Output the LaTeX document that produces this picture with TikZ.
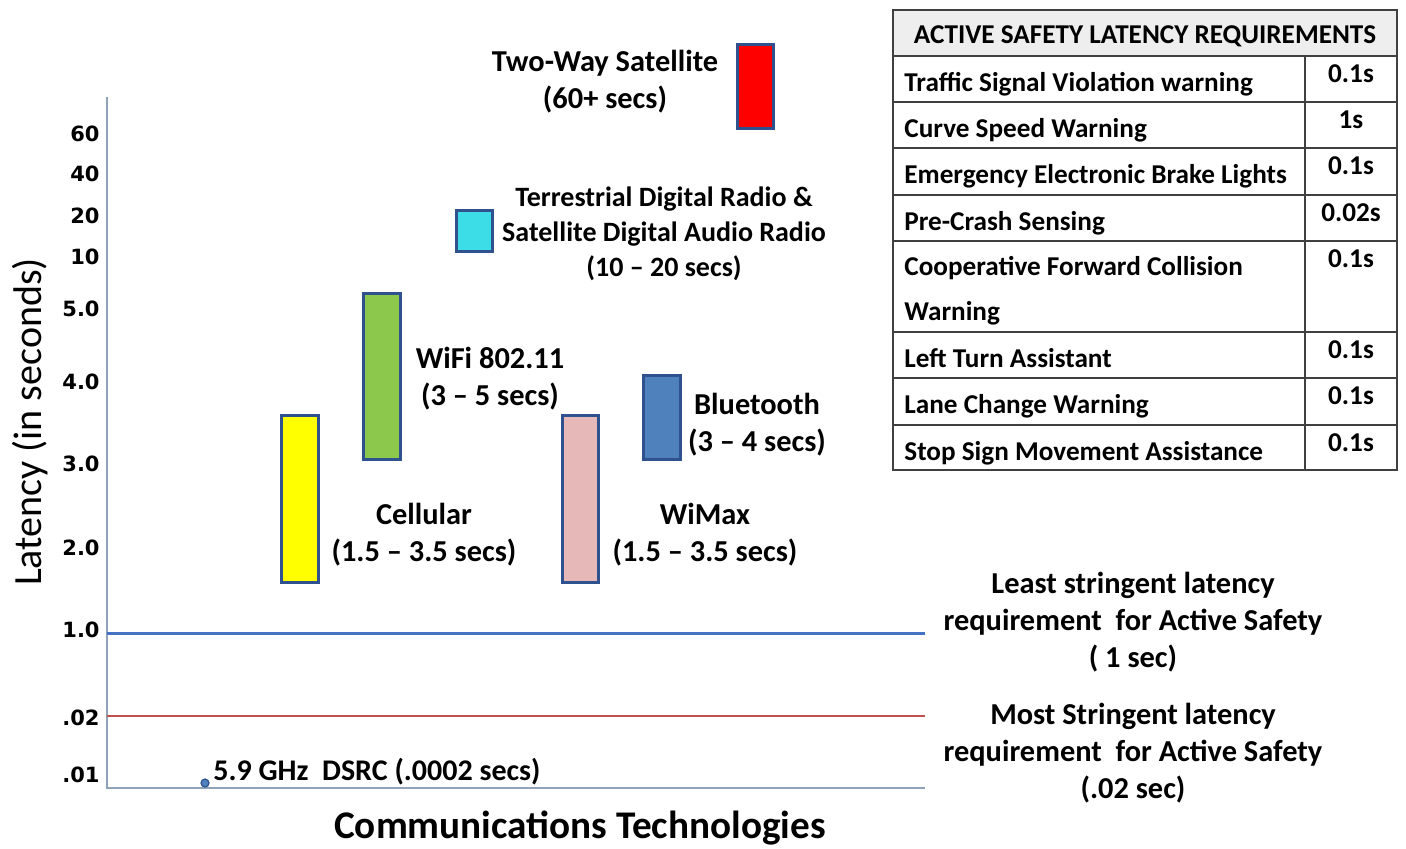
\documentclass[tikz,border=0pt]{standalone}
\usepackage{fontspec}
\setmainfont{Carlito}
\newfontfamily\tickfont{DejaVu Sans}
\usetikzlibrary{positioning}

\definecolor{barline}{HTML}{2F528F}
\definecolor{axisgray}{HTML}{8FA3B8}
\definecolor{leastblue}{HTML}{4472C4}
\definecolor{mostred}{HTML}{C0504D}
\definecolor{satred}{HTML}{FF0000}
\definecolor{radiocyan}{HTML}{3DDDE8}
\definecolor{wifigreen}{HTML}{8CC84B}
\definecolor{cellyellow}{HTML}{FFFF00}
\definecolor{wimaxpink}{HTML}{E6B9B8}
\definecolor{btblue}{HTML}{4F81BD}
\definecolor{headgray}{HTML}{EEEEEE}

\tikzset{
  bar/.style={draw=barline, line width=1.5pt},
  lbl/.style={font=\bfseries\fontsize{15.2}{18.5}\selectfont, align=center, inner sep=0pt},
  ticklbl/.style={font=\tickfont\bfseries\fontsize{10.5}{12}\selectfont, anchor=east, inner sep=0pt},
  cell/.style={font=\bfseries\fontsize{13.6}{16}\selectfont, anchor=base west, inner sep=0pt},
  val/.style={font=\bfseries\fontsize{13.6}{16}\selectfont, anchor=base, inner sep=0pt},
  grid/.style={draw=black!75, line width=0.9pt}
}

\begin{document}
\begin{tikzpicture}[x=0.5pt, y=-0.5pt]
    \useasboundingbox (0,0) rectangle (1406,848);

    % Axes
    \draw[axisgray, line width=0.7pt] (107,97) -- (107,788) -- (925,788);

    % Tick labels
    \foreach \y/\t in {134/60, 174/40, 216/20, 257/10, 309/5.0, 382/4.0,
                       464/3.0, 548/2.0, 630/1.0, 718/.02, 775/.01}
        \node[ticklbl] (tick\t) at (100,\y) {\t};

    % Axis titles
    \node[rotate=90, font=\fontsize{20}{24}\selectfont, inner sep=0pt] (ytitle) at (30,422) {Latency (in seconds)};
    \node[font=\bfseries\fontsize{19.6}{24}\selectfont, inner sep=0pt] (xtitle) at (580,828) {Communications Technologies};

    % Requirement lines
    \draw[leastblue, line width=1.5pt] (107,633) -- (925,633);
    \draw[mostred, line width=1.2pt] (107,716) -- (925,716);

    % Technology bars
    \filldraw[bar, fill=satred]     (737,44)  rectangle (773,128);
    \filldraw[bar, fill=radiocyan]  (456,210) rectangle (492,251);
    \filldraw[bar, fill=wifigreen]  (363,293) rectangle (400,459);
    \filldraw[bar, fill=cellyellow] (281,415) rectangle (318,582);
    \filldraw[bar, fill=wimaxpink]  (562,415) rectangle (598,582);
    \filldraw[bar, fill=btblue]     (643,375) rectangle (680,459);

    % DSRC point
    \filldraw[fill=btblue, draw=barline, line width=0.6pt] (205,783) circle (4);
    \node[anchor=base west, inner sep=0pt, font=\bfseries\fontsize{15}{18}\selectfont] (dsrc) at (213,780) {5.9 GHz\ \ DSRC (.0002 secs)};

    % Bar labels
    \node[lbl] (satlbl)   at (605,82)  {Two-Way Satellite\\(60+ secs)};
    \node[lbl, font=\bfseries\fontsize{14}{17.5}\selectfont] (radiolbl) at (664,234) {Terrestrial Digital Radio \&\\Satellite Digital Audio Radio\\(10 -- 20 secs)};
    \node[lbl] (wifilbl)  at (490,379) {WiFi 802.11\\(3 -- 5 secs)};
    \node[lbl] (btlbl)    at (757,425) {Bluetooth\\(3 -- 4 secs)};
    \node[lbl] (celllbl)  at (424,535) {Cellular\\(1.5 -- 3.5 secs)};
    \node[lbl] (wimaxlbl) at (705,535) {WiMax\\(1.5 -- 3.5 secs)};

    % Requirement labels
    \node[lbl] (leastlbl) at (1133,622) {Least stringent latency\\requirement\ \ for Active Safety\\( 1 sec)};
    \node[lbl] (mostlbl)  at (1133,753) {Most Stringent latency\\requirement\ \ for Active Safety\\(.02 sec)};

    % Requirements table
    \fill[headgray] (893,10) rectangle (1397,56);
    \draw[grid] (893,10) rectangle (1397,470);
    \foreach \y in {56,102,148,195,241,332,378,425}
        \draw[grid] (893,\y) -- (1397,\y);
    \draw[grid] (1305,56) -- (1305,470);
    \node[val] (head) at (1145,43) {ACTIVE SAFETY LATENCY REQUIREMENTS};
    \foreach \t/\name/\v [count=\i] in {56/Traffic Signal Violation warning/0.1s,
                              102/Curve Speed Warning/1s,
                              148/Emergency Electronic Brake Lights/0.1s,
                              195/Pre-Crash Sensing/0.02s,
                              332/Left Turn Assistant/0.1s,
                              378/Lane Change Warning/0.1s,
                              425/Stop Sign Movement Assistance/0.1s} {
        \node[cell] (row\i) at (904,\t+35) {\name};
        \node[val] (val\i) at (1351,\t+26) {\v};
    }
    \node[cell] (cfcw) at (904,275) {Cooperative Forward Collision};
    \node[cell] (cfcwb) at (904,320) {Warning};
    \node[val] (cfcwval) at (1351,267) {0.1s};
\end{tikzpicture}
\end{document}
